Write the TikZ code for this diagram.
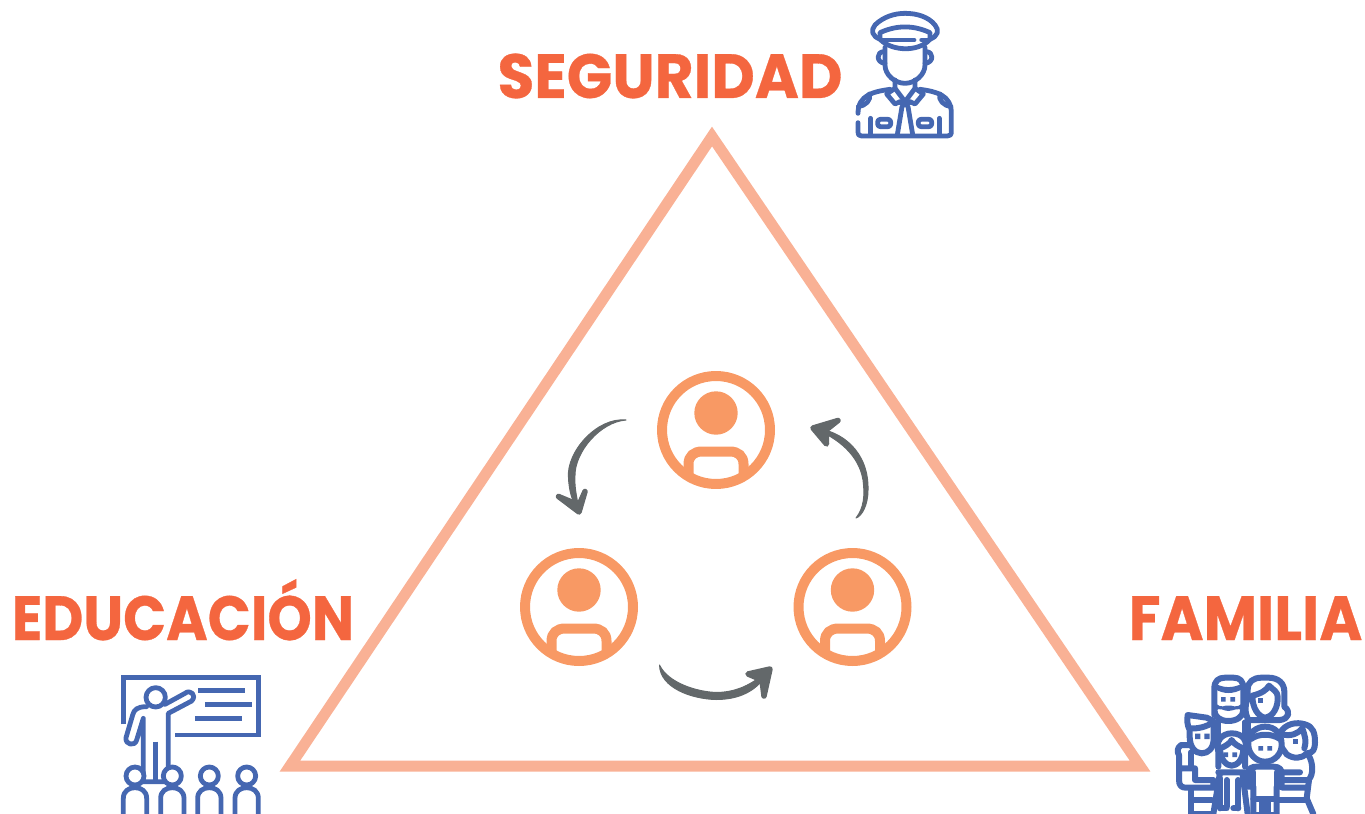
\documentclass[tikz,border=0pt]{standalone}
\usepackage{fontspec}
\setmainfont{Poppins}[BoldFont={Poppins Bold},BoldFeatures={FakeBold=0.5}]
\definecolor{tri}{HTML}{F9B195}
\definecolor{ringc}{HTML}{F89964}
\definecolor{labelc}{HTML}{F4663F}
\definecolor{iconc}{HTML}{4567B1}
\definecolor{arrowc}{HTML}{63686A}
\tikzset{
  x=0.02cm,y=-0.02cm,
  pxw/.style={line width=#1*0.02cm},
  tituloc/.style={text=labelc,font=\fontsize{35.5}{36}\selectfont\bfseries,inner sep=0pt,anchor=base},
  ring/.style={circle,draw=ringc,pxw=10,minimum size=2.16cm,inner sep=0pt},
  icon/.style={draw=iconc,pxw=4.8,line cap=round,line join=round},
  flecha/.style={fill=arrowc,draw=arrowc,pxw=1,line join=round},
  punta/.style={draw=arrowc,fill=arrowc,pxw=5.5,line cap=round,line join=round},
  fam/.style={draw=iconc,pxw=6,line join=round,line cap=round,fill=white},
  famline/.style={draw=iconc,pxw=6,line join=round,line cap=round},
  persona/.pic={
    \fill[ringc] (0,-17) circle (21.7);
    \draw[draw=ringc,pxw=10] (-27.5,46) -- (-27.5,34) .. controls (-27.5,26) and (-22,21.5) .. (-14,21.5)
       -- (14,21.5) .. controls (22,21.5) and (27.5,26) .. (27.5,34) -- (27.5,46);
  }
}
\begin{document}
\begin{tikzpicture}
\useasboundingbox (0,0) rectangle (1365,814);
% triangle
\draw[draw=tri,pxw=11,line join=miter,miter limit=10] (712,136.5) -- (1140,766) -- (290,766) -- cycle;
% labels
\node[tituloc] (seg) at (670,98) {\scalebox{0.96}[1]{SEGURIDAD}};
\node[tituloc] (edu) at (183,640) {\scalebox{0.905}[1]{EDUCACIÓN}};
\node[tituloc] (fam) at (1245.5,640) {\scalebox{0.935}[1]{FAMILIA}};
% persons
\node[ring] (ptop) at (716,430) {};
\node[ring] (pleft) at (579,607) {};
\node[ring] (pright) at (852.5,607) {};
\pic at (ptop) {persona};
\pic at (pleft) {persona};
\pic at (pright) {persona};
% arrows
\coordinate (a1s) at (626,420);
\coordinate (a1e) at (579,512);
\coordinate (a2s) at (659.5,665);
\coordinate (a2e) at (770,669);
\coordinate (a3s) at (856,518);
\coordinate (a3e) at (813,428);
\fill[flecha] (a1s) .. controls (597,417) and (566,452) .. (568.5,478) .. controls (569,490) and (572,502) .. (a1e)
   .. controls (578,500) and (574,490) .. (575,475) .. controls (575,452) and (600,422) .. cycle;
\draw[punta] (558.5,496.5) -- (a1e) -- (585,491.5) -- (579,505) -- cycle;
\fill[flecha] (a2s) .. controls (668,683) and (697,692) .. (717,692.5) .. controls (740,692) and (755,682) .. (a2e)
   .. controls (758,692) and (738,699.5) .. (716,699.5) .. controls (692,699) and (660,688) .. cycle;
\draw[punta] (748,674) -- (a2e) -- (764,696) -- (762,680) -- cycle;
\fill[flecha] (a3s) .. controls (864,508) and (865,495) .. (863,480) .. controls (859,455) and (838,438) .. (a3e)
   .. controls (842,430) and (869,452) .. (868,490) .. controls (868,505) and (862,516) .. cycle;
\draw[punta] (838,420.5) -- (a3e) -- (826.5,444) -- (826,430) -- cycle;
% policeman
\begin{scope}[shift={(840,0)},x=0.00666667cm,y=-0.00666667cm]
 \draw[icon] (122,118) .. controls (95,110) and (92,90) .. (105,75) .. controls (130,50) and (165,40) .. (195,40)
    .. controls (230,40) and (265,50) .. (285,75) .. controls (298,90) and (295,110) .. (268,118);
 \draw[icon] (120,118) -- (120,98) .. controls (170,75) and (220,75) .. (270,98) -- (270,118);
 \draw[icon] (122,120) .. controls (160,155) and (235,155) .. (268,120);
 \draw[icon] (122,120) -- (222,120) (245,120) -- (268,120);
 \draw[icon] (135,142) -- (135,195) .. controls (135,225) and (165,250) .. (195,250) .. controls (225,250) and (255,225) .. (255,195) -- (255,142);
 \draw[icon] (132,155) .. controls (108,155) and (108,188) .. (135,190);
 \draw[icon] (258,155) .. controls (282,155) and (282,188) .. (255,190);
 \draw[icon] (165,240) -- (165,265) -- (195,305) -- (225,265) -- (225,240);
 \draw[icon] (165,265) -- (140,282) -- (165,312) -- (180,305);
 \draw[icon] (225,265) -- (250,282) -- (225,312) -- (210,305);
 \draw[icon] (180,307) -- (195,316) -- (210,307);
 \draw[icon] (186,320) -- (172,404) (204,320) -- (218,404);
 \draw[icon] (150,268) .. controls (100,275) and (54,285) .. (54,340);
 \draw[icon] (54,368) -- (54,395) .. controls (54,405) and (58,408) .. (65,408) -- (322,408) .. controls (330,408) and (334,405) .. (334,395) -- (334,340)
    .. controls (334,285) and (290,275) .. (240,268);
 \draw[icon] (55,320) .. controls (75,318) and (95,300) .. (88,282);
 \draw[icon] (333,320) .. controls (313,318) and (293,300) .. (300,282);
 \draw[icon] (92,355) -- (92,405) (298,355) -- (298,405);
 \draw[icon,rounded corners=1.5pt] (113,358) rectangle (152,380);
 \draw[icon,rounded corners=1.5pt] (235,358) rectangle (275,380);
\end{scope}
% teacher
\begin{scope}[shift={(110,665)},x=0.00666667cm,y=-0.00666667cm]
 \draw[icon,line cap=butt,line join=miter] (40,178) -- (40,38) -- (445,38) -- (445,210) -- (195,210);
 \draw[icon,line cap=butt] (265,76) -- (405,76) (285,118) -- (426,118) (255,160) -- (396,160);
 \draw[icon] (137,97) circle (29);
 \draw[icon] (110,125) .. controls (80,125) and (72,135) .. (68,150) -- (48,218) .. controls (45,240) and (75,245) .. (80,225) -- (100,160)
   -- (100,350) -- (175,350) -- (175,145) -- (245,108) .. controls (262,90) and (240,72) .. (225,85) -- (165,118);
 \draw[icon,line cap=butt] (137,230) -- (137,350);
 \foreach \hx in {75,187,298,410}{
   \draw[icon,fill=white] (\hx,333) circle (27);
   \draw[icon,fill=white,line cap=butt] (\hx-35,447) -- (\hx-35,400) .. controls (\hx-35,378) and (\hx-18,368) .. (\hx,368)
      .. controls (\hx+18,368) and (\hx+35,378) .. (\hx+35,400) -- (\hx+35,447);
 }
\end{scope}
% family
\begin{scope}[shift={(1165,665)},x=0.00666667cm,y=-0.00666667cm]
 \begin{scope}
 \clip (0,0) rectangle (495,447);
 % father
 \draw[fam] (148,150) -- (148,70) .. controls (148,48) and (160,38) .. (180,38) -- (205,38) .. controls (225,38) and (235,48) .. (235,70)
    -- (235,135) .. controls (235,155) and (215,168) .. (190,168) .. controls (165,168) and (148,155) .. (148,135);
 \fill[iconc] (150,72) .. controls (175,88) and (205,88) .. (233,72) -- (233,55) .. controls (205,70) and (175,70) .. (150,55) -- cycle;
 \fill[iconc] (150,112) .. controls (170,135) and (180,118) .. (190,122) .. controls (200,118) and (215,135) .. (233,112) -- (233,138)
    .. controls (220,125) and (205,138) .. (190,138) .. controls (175,138) and (165,125) .. (150,138) -- cycle;
 \fill[iconc] (168,96) rectangle (182,110) (196,96) rectangle (210,110);
 % mother
 \draw[fam] (250,165) .. controls (238,140) and (240,120) .. (248,100) -- (248,75) .. controls (248,50) and (265,38) .. (290,38) -- (310,38)
    .. controls (340,38) and (358,55) .. (358,80) -- (358,125) .. controls (378,140) and (372,162) .. (345,165) -- cycle;
 \draw[famline] (262,92) .. controls (290,85) and (305,75) .. (312,62) .. controls (325,75) and (338,80) .. (338,95) .. controls (340,125) and (325,155) .. (300,158)
    .. controls (280,155) and (262,130) .. (262,92);
 \fill[iconc] (280,100) rectangle (294,114);
 % parents' torsos
 \draw[famline] (160,172) -- (160,230) (240,172) -- (240,215) (250,172) -- (250,200);
 \fill[iconc] (150,168) rectangle (162,182) (232,168) rectangle (255,182);
 % left boy: arm, trousers
 \draw[famline] (78,262) -- (78,447);
 \draw[famline] (78,405) -- (140,405) (78,447) -- (140,447);
 \draw[fam] (72,240) -- (48,240) .. controls (36,248) and (36,262) .. (42,270) -- (42,345) .. controls (42,362) and (50,368) .. (62,368) -- (145,368)
    -- (145,345) -- (90,345) -- (90,310) -- (50,310);
 % left boy: head
 \draw[fam] (68,150) -- (125,158) -- (146,168) -- (146,220) .. controls (146,250) and (130,265) .. (110,265) .. controls (90,265) and (74,245) .. (74,215) -- (74,195) .. controls (66,180) and (66,165) .. (68,150) -- cycle;
 \draw[famline] (74,190) .. controls (100,192) and (125,185) .. (144,172);
 \fill[iconc] (90,206) rectangle (106,222) (118,206) rectangle (134,222);
 % girl
 \draw[fam] (160,305) -- (160,260) .. controls (150,230) and (170,205) .. (200,205) .. controls (235,205) and (250,230) .. (240,260) -- (240,305);
 \draw[fam] (165,250) .. controls (180,245) and (195,235) .. (200,225) .. controls (205,235) and (220,245) .. (235,250) .. controls (235,285) and (215,302) .. (200,302) .. controls (185,302) and (165,285) .. (165,250) -- cycle;
 \fill[iconc] (175,262) rectangle (189,276) (202,262) rectangle (216,276);
 \draw[famline] (165,322) -- (145,447) (232,322) -- (248,447) (160,322) -- (240,322);
 \draw[famline] (165,340) -- (165,430) (185,345) -- (185,425) (220,345) -- (220,430) (170,430) -- (185,430) (205,430) -- (220,430);
 % right girl
 \draw[fam] (345,205) .. controls (360,175) and (395,170) .. (420,178) .. controls (445,185) and (450,205) .. (450,232) .. controls (450,252) and (445,265) .. (425,265)
   .. controls (410,282) and (385,282) .. (365,268) -- (345,240) -- cycle;
 \draw[famline] (350,208) .. controls (380,215) and (400,205) .. (412,190) .. controls (420,215) and (425,225) .. (418,250);
 \fill[iconc] (385,222) rectangle (399,236);
 \draw[famline] (352,322) -- (405,322) (352,345) -- (430,345) .. controls (447,330) and (444,290) .. (430,270);
 \draw[famline] (352,368) -- (425,368) (432,345) -- (425,400) -- (445,447);
 \draw[famline] (335,405) -- (425,405);
 % right boy
 \draw[fam] (250,240) -- (250,225) .. controls (250,205) and (275,185) .. (300,185) .. controls (330,185) and (350,205) .. (350,240) .. controls (350,265) and (330,290) .. (300,290) .. controls (272,290) and (250,265) .. (250,240) -- cycle;
 \draw[famline] (258,222) .. controls (280,205) and (320,205) .. (345,222);
 \fill[iconc] (280,243) rectangle (294,257) (307,243) rectangle (321,257);
 \draw[fam] (250,365) -- (250,325) .. controls (250,310) and (260,305) .. (275,305) -- (325,305) .. controls (345,305) and (350,315) .. (350,325) -- (350,365) -- (335,365) -- (335,450) -- (265,450) -- (265,365) -- cycle;
 \draw[famline] (265,322) -- (265,365) (335,322) -- (335,365);
 \draw[famline] (265,402) -- (335,402) (290,402) -- (290,450) (310,402) -- (310,450);
 \end{scope}
\end{scope}
\end{tikzpicture}
\end{document}
